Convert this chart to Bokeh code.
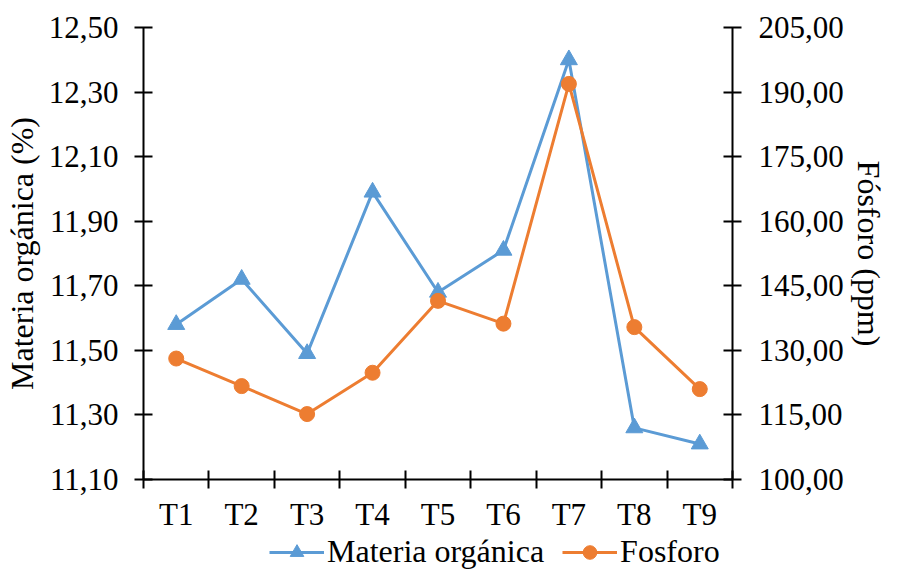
from bokeh.plotting import figure
from bokeh.layouts import column
from bokeh.models import (Range1d, LinearAxis, FixedTicker, CustomJSTickFormatter,
                          Legend, LegendItem, ColumnDataSource)
from bokeh.embed import file_html
from bokeh.resources import INLINE

categories = ["T1", "T2", "T3", "T4", "T5", "T6", "T7", "T8", "T9"]
materia = [11.58, 11.72, 11.49, 11.99, 11.68, 11.81, 12.40, 11.26, 11.21]
fosforo = [128.1, 121.7, 115.2, 124.8, 141.5, 136.2, 191.9, 135.4, 121.0]
left_ticks = [11.10, 11.30, 11.50, 11.70, 11.90, 12.10, 12.30, 12.50]
right_ticks = [100, 115, 130, 145, 160, 175, 190, 205]
series_names = ["Materia orgánica", "Fosforo"]

BLUE = "#5B9BD5"
ORANGE = "#ED7D31"
FONT = "Liberation Serif"

n = len(categories)
xpos = list(range(1, n + 1))
bounds = [i + 0.5 for i in range(0, n + 1)]

src = ColumnDataSource(dict(x=xpos, cat=categories, mo=materia, p=fosforo))

p = figure(width=889, height=534, output_backend="svg", toolbar_location=None,
           x_range=Range1d(0.5, n + 0.5), y_range=Range1d(left_ticks[0], left_ticks[-1]),
           min_border_left=142, min_border_right=148, min_border_top=27, min_border_bottom=52)
p.extra_y_ranges = {"fos": Range1d(right_ticks[0], right_ticks[-1])}
p.outline_line_color = None
p.xgrid.visible = False
p.ygrid.visible = False
p.background_fill_color = "white"
p.border_fill_color = "white"

def style_axis(ax, fs="31px"):
    ax.axis_line_color = "black"
    ax.axis_line_width = 2
    ax.major_tick_line_color = "black"
    ax.major_tick_line_width = 2
    ax.major_tick_in = 9
    ax.major_tick_out = 9
    ax.minor_tick_line_color = None
    ax.major_label_text_font = FONT
    ax.major_label_text_font_size = fs
    ax.major_label_text_color = "black"
    ax.axis_label_text_font = FONT
    ax.axis_label_text_font_size = "32px"
    ax.axis_label_text_font_style = "normal"
    ax.axis_label_text_color = "black"

# x axis: labels at category centres, tick marks between categories
xa = p.xaxis[0]
style_axis(xa, "31px")
xa.ticker = FixedTicker(ticks=xpos, minor_ticks=bounds)
xa.major_label_overrides = {x: c for x, c in zip(xpos, categories)}
xa.major_tick_line_color = None
xa.major_tick_out = 9
xa.minor_tick_line_color = "black"
xa.minor_tick_line_width = 2
xa.minor_tick_in = 9
xa.minor_tick_out = 9
xa.major_label_standoff = 8

fmt = CustomJSTickFormatter(code="return tick.toFixed(2).replace('.', ',');")

ya = p.yaxis[0]
style_axis(ya)
ya.ticker = FixedTicker(ticks=left_ticks)
ya.formatter = fmt
ya.axis_label = "Materia orgánica (%)"
ya.major_label_standoff = 16
ya.axis_label_standoff = 6

ra = LinearAxis(y_range_name="fos")
style_axis(ra)
ra.ticker = FixedTicker(ticks=right_ticks)
ra.formatter = fmt
ra.axis_label = "Fósforo (ppm)"
ra.major_label_standoff = 17
ra.axis_label_standoff = 4
p.add_layout(ra, "right")

p.line("x", "mo", source=src, line_color=BLUE, line_width=3)
p.scatter("x", "mo", source=src, marker="triangle", size=17,
          fill_color=BLUE, line_color=BLUE)
p.line("x", "p", source=src, line_color=ORANGE, line_width=3, y_range_name="fos")
p.scatter("x", "p", source=src, marker="circle", size=15,
          fill_color=ORANGE, line_color=ORANGE, y_range_name="fos")

# legend strip below the chart (series drawn off-frame so only legend glyphs show)
lg = figure(width=889, height=36, output_backend="svg", toolbar_location=None,
            x_axis_location=None, y_axis_location=None,
            min_border_left=142, min_border_right=148, min_border_top=0, min_border_bottom=0,
            x_range=Range1d(0.5, n + 0.5), y_range=Range1d(-2, -1))
lg.outline_line_color = None
lg.grid.visible = False
lg.border_fill_color = "white"
lg.background_fill_color = "white"
r1 = lg.line("x", "mo", source=src, line_color=BLUE, line_width=3)
s1 = lg.scatter("x", "mo", source=src, marker="triangle", size=17,
                fill_color=BLUE, line_color=BLUE)
r2 = lg.line("x", "p", source=src, line_color=ORANGE, line_width=3)
s2 = lg.scatter("x", "p", source=src, marker="circle", size=15,
                fill_color=ORANGE, line_color=ORANGE)
legend = Legend(items=[LegendItem(label=series_names[0], renderers=[r1, s1]),
                       LegendItem(label=series_names[1], renderers=[r2, s2])],
                orientation="horizontal", location=(126, 0),
                label_text_font=FONT, label_text_font_size="32px", label_text_color="black",
                glyph_width=55, glyph_height=34, label_standoff=3, spacing=18,
                padding=0, margin=0, border_line_color=None, background_fill_alpha=0)
lg.add_layout(legend, "center")

layout = column(p, lg, spacing=0)
open("out.html", "w").write(file_html(layout, INLINE))
